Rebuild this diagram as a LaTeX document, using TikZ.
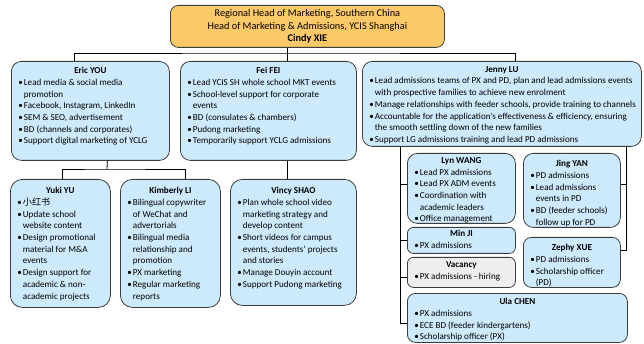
\documentclass[tikz,border=0pt]{standalone}
\usepackage{fontspec}
\setmainfont{Carlito}
\newfontfamily\cjk{Noto Sans CJK SC}
\usetikzlibrary{calc}

\definecolor{boxblue}{RGB}{205,234,252}
\definecolor{boxgray}{RGB}{238,238,238}
\definecolor{bossorange}{RGB}{251,201,104}
\definecolor{edgegray}{RGB}{60,60,60}

\newcommand\bul{\par\leftskip=7.5pt\noindent\llap{\hbox to 7.5pt{\hskip2pt\textbullet\hss}}}
\newcommand\who[1]{{\centering\textbf{#1}\par}}
\newcommand\cardbody[3]{\parbox[t][#2][t]{#1}{\raggedright #3}}

\tikzset{
  card/.style={draw=edgegray,fill=boxblue,line width=0.8pt,rounded corners=10pt,
    anchor=north west,inner xsep=5pt,inner ysep=6pt,
    font=\fontsize{9.1}{11.7}\selectfont},
  boss/.style={draw=edgegray,fill=bossorange,line width=0.8pt,rounded corners=8pt,
    anchor=north west,minimum width=274pt,minimum height=42pt,align=center,
    font=\fontsize{10.3}{12.8}\selectfont},
  link/.style={draw=black,line width=0.8pt}
}

\begin{document}
\begin{tikzpicture}[x=1pt,y=-1pt]
 \useasboundingbox (0,0) rectangle (644,344);

 % head
 \node[boss] (cindy) at (170,5) {Regional Head of Marketing, Southern China\\Head of Marketing \& Admissions, YCIS Shanghai\\\textbf{Cindy XIE}};

 % first level
 \node[card] (eric) at (11,61) {\cardbody{148pt}{87pt}{\who{Eric YOU}
   \bul Lead media \& social media\newline promotion
   \bul Facebook, Instagram, LinkedIn
   \bul SEM \& SEO, advertisement
   \bul BD (channels and corporates)
   \bul Support digital marketing of YCLG}};
 \node[card] (fei) at (180,61) {\cardbody{166pt}{87pt}{\who{Fei FEI}
   \bul Lead YCIS SH whole school MKT events
   \bul School-level support for corporate\newline events
   \bul BD (consulates \& chambers)
   \bul Pudong marketing
   \bul Temporarily support YCLG admissions}};
 \node[card,inner ysep=5pt] (jenny) at (362,61) {\cardbody{269pt}{75pt}{\who{Jenny LU}
   \bul Lead admissions teams of PX and PD, plan and lead admissions events\newline with prospective families to achieve new enrolment
   \bul Manage relationships with feeder schools, provide training to channels
   \bul Accountable for the application’s effectiveness \& efficiency, ensuring\newline the smooth settling down of the new families
   \bul Support LG admissions training and lead PD admissions}};

 % under Eric and Fei
 \node[card,rounded corners=12pt,inner ysep=8pt] (yuki) at (10,179) {\cardbody{90pt}{112pt}{\who{Yuki YU}
   \bul {\cjk 小红书}
   \bul Update school\newline website content
   \bul Design promotional\newline material for M\&A\newline events
   \bul Design support for\newline academic \& non-\newline academic projects}};
 \node[card,rounded corners=12pt,inner ysep=8pt] (kim) at (120,179) {\cardbody{90pt}{112pt}{\who{Kimberly LI}
   \bul Bilingual copywriter\newline of WeChat and\newline advertorials
   \bul Bilingual media\newline relationship and\newline promotion
   \bul PX marketing
   \bul Regular marketing\newline reports}};
 \node[card,rounded corners=12pt,inner ysep=8pt] (vincy) at (230,179) {\cardbody{116pt}{110pt}{\who{Vincy SHAO}
   \bul Plan whole school video\newline marketing strategy and\newline develop content
   \bul Short videos for campus\newline events, students’ projects\newline and stories
   \bul Manage Douyin account
   \bul Support Pudong marketing}};

 % under Jenny
 \node[card,inner ysep=4pt] (lyn) at (407,153) {\cardbody{98pt}{62pt}{\who{Lyn WANG}
   \bul Lead PX admissions
   \bul Lead PX ADM events
   \bul Coordination with\newline academic leaders
   \bul Office management}};
 \node[card,inner ysep=7pt] (jing) at (523,153) {\cardbody{87pt}{60pt}{\who{Jing YAN}
   \bul PD admissions
   \bul Lead admissions\newline events in PD
   \bul BD (feeder schools)\newline follow up for PD}};
 \node[card,rounded corners=6pt,inner ysep=3pt] (minji) at (407,227) {\cardbody{98pt}{20pt}{\who{Min JI}
   \bul PX admissions}};
 \node[card,fill=boxgray,rounded corners=6pt,inner ysep=4pt] (vacancy) at (407,257) {\cardbody{98pt}{22pt}{\who{Vacancy}
   \bul PX admissions - hiring}};
 \node[card,rounded corners=8pt,inner ysep=7pt] (zephy) at (523,237) {\cardbody{87pt}{36pt}{\who{Zephy XUE}
   \bul PD admissions
   \bul Scholarship officer\newline (PD)}};
 \node[card,rounded corners=8pt,inner ysep=5pt] (ula) at (407,293) {\cardbody{210pt}{39pt}{\who{Ula CHEN}
   \bul PX admissions
   \bul ECE BD (feeder kindergartens)
   \bul Scholarship officer (PX)}};

 % lines
 \coordinate (hub) at (287,53);
 \draw[link] ([xshift=-20pt]cindy.south) -- ([xshift=19pt]fei.north);
 \draw[link] ([xshift=-16pt]eric.north) |- (hub) -| ([xshift=13.5pt]jenny.north);

 \coordinate (erichub) at (107,169);
 \draw[link] ([xshift=17pt]eric.south) -- (erichub);
 \draw[link] ([xshift=2pt]yuki.north) |- (erichub) -| ([xshift=15pt]kim.north);
 \draw[link] ([xshift=19pt]fei.south) -- ([xshift=-6pt]vincy.north);

 \coordinate (ltop) at ($(jenny.south west)+(38,0)$);
 \draw[link] (ltop) |- ([yshift=4pt]lyn.west);
 \draw[link] (ltop) |- (minji.west);
 \draw[link] (ltop) |- ([yshift=-5pt]vacancy.west);
 \draw[link] (ltop) |- ([yshift=-5.5pt]ula.west);

 \coordinate (rtop) at ($(jenny.south east)+(-15,0)$);
 \draw[link] (rtop) |- ([yshift=6pt]jing.east);
 \draw[link] (rtop) |- ([yshift=12pt]zephy.east);
\end{tikzpicture}
\end{document}
